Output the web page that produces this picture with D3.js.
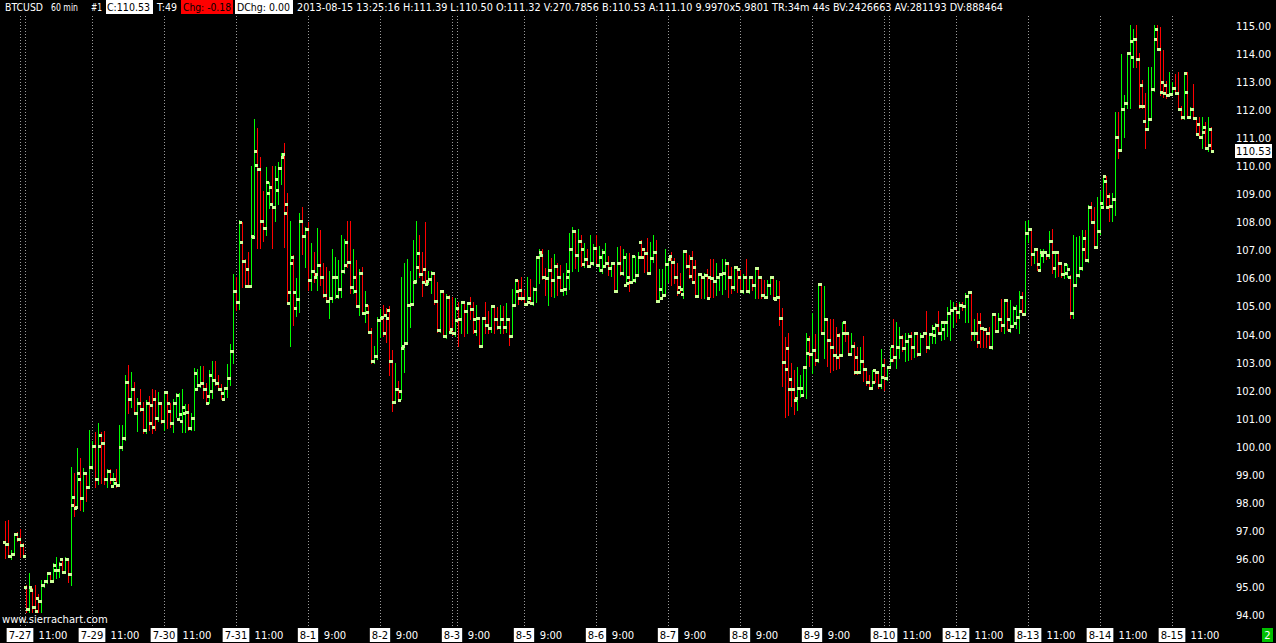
<!DOCTYPE html>
<html>
<head>
<meta charset="utf-8">
<script src="https://cdn.jsdelivr.net/npm/d3@7"></script>
<style>
  html, body { margin: 0; padding: 0; background: #000; }
  svg { display: block; }
  text { font-family: "DejaVu Sans", "Liberation Sans", sans-serif; }
</style>
</head>
<body>
<svg id="chart"></svg>
<script>
// BTCUSD 60 min bars (bar index 0 .. 402)
var opens = [96.6,96.52,96.1,96.18,96.88,96.71,96.5,95.0,94.22,94.9,
  94.3,94.6,94.51,95.07,95.23,95.49,95.23,95.6,95.62,96.0,
  95.55,96.0,95.46,98.2,97.86,98.84,98.16,99.05,98.56,99.26,
  100.04,98.84,100.4,100.14,98.84,99.15,98.6,98.7,98.65,100.0,
  100.3,102.3,101.69,102.05,101.2,101.55,101.34,100.6,101.55,101.5,
  101.69,101.02,101.55,100.9,101.96,101.27,100.84,101.55,101.0,100.93,
  101.2,101.22,100.66,101.02,102.05,102.2,102.26,102.05,101.8,102.0,
  102.38,102.26,102.05,101.69,102.08,102.44,103.41,105.55,105.15,107.29,
  106.63,106.33,105.73,107.47,110.04,109.9,108.04,107.8,109.03,108.64,
  108.54,109.15,109.93,110.44,108.64,105.53,106.78,104.93,105.26,108.04,
  107.51,107.76,105.94,106.27,106.16,106.48,106.06,105.41,105.2,105.3,
  106.04,105.37,105.64,106.27,107.29,106.58,105.68,105.55,105.03,106.18,
  104.76,104.82,104.08,103.04,103.24,104.52,104.64,104.7,104.88,103.04,
  101.6,102.05,102.0,103.59,103.71,105.04,105.1,105.9,106.91,106.16,
  106.33,105.91,105.99,106.2,105.2,104.16,105.56,103.93,105.35,104.2,
  104.04,104.93,104.54,105.15,104.84,105.12,104.9,104.13,104.58,103.59,
  104.58,104.34,104.22,105.02,104.55,104.26,104.55,104.26,104.54,103.95,
  105.05,105.56,105.6,105.29,105.08,105.3,105.13,105.64,106.75,106.84,
  106.04,106.0,106.3,105.94,106.44,106.04,105.59,105.64,106.28,107.04,
  107.7,106.84,107.34,106.5,106.68,106.44,106.56,107.08,106.48,106.3,
  106.45,106.54,106.36,106.54,105.56,106.54,106.18,105.78,106.04,105.89,
  105.94,106.12,107.3,107.05,106.92,106.18,106.72,106.93,105.2,105.3,
  105.41,106.5,106.8,106.6,106.04,105.7,105.45,106.98,106.44,106.72,
  106.4,105.37,106.16,106.04,106.12,106.04,106.0,105.92,106.04,106.16,
  106.2,106.54,106.04,105.68,106.4,106.04,105.56,106.04,105.56,106.04,
  105.77,106.36,106.04,105.41,105.35,105.77,106.04,105.27,105.35,104.58,
  103.03,103.51,102.4,102.05,101.75,102.08,101.84,102.83,103.83,103.31,
  103.45,103.09,105.8,104.07,104.54,103.8,103.54,103.27,104.0,103.27,
  104.43,104.04,103.31,103.6,103.2,102.68,103.07,102.76,102.32,102.08,
  102.72,102.68,102.2,102.9,102.44,102.83,103.6,103.19,103.54,103.9,
  103.51,103.78,103.95,103.54,104.04,103.31,103.95,104.04,103.57,104.02,
  104.0,104.34,104.07,104.2,104.45,104.76,104.88,104.93,104.79,105.05,
  105.0,105.37,105.53,104.04,104.06,104.45,104.25,104.19,104.04,103.54,
  104.72,104.14,104.54,104.34,105.23,104.16,104.3,104.4,104.63,105.33,
  104.72,107.63,107.75,106.87,107.04,106.3,106.85,106.93,106.84,107.33,
  106.36,106.93,106.54,106.15,106.2,106.05,104.76,105.77,106.11,106.36,
  107.43,106.66,108.54,108.02,107.11,107.7,108.54,109.47,108.95,108.58,
  108.82,111.03,110.58,112.04,112.24,114.03,113.91,114.54,113.82,112.9,
  111.61,111.33,111.68,112.75,114.9,114.18,113.0,112.9,112.54,112.58,
  112.8,112.6,112.04,111.75,112.64,111.75,112.03,111.71,111.5,111.05,
  111.4,110.64,111.32];

var highs = [97.35,97.39,96.3,96.91,96.95,97.06,96.56,95.07,95.5,94.95,
  95.07,94.75,95.25,95.25,95.55,95.55,95.84,96.08,95.9,96.02,
  96.08,96.02,99.29,99.05,99.94,99.58,99.23,99.1,100.6,100.2,
  100.53,100.83,100.53,100.57,99.2,99.2,99.05,99.2,100.78,100.78,
  102.55,102.91,102.68,102.29,101.73,102.05,101.6,101.67,101.81,102.05,
  102.02,101.96,101.6,102.0,101.98,101.55,101.69,101.93,101.9,102.05,
  101.52,101.52,101.2,102.79,102.76,102.86,102.86,102.26,102.74,103.07,
  103.07,102.56,102.24,102.14,102.95,103.66,106.16,106.04,108.07,108.02,
  106.68,106.95,110.0,111.67,111.35,110.32,109.12,109.98,109.45,110.0,
  110.0,110.15,110.46,110.84,109.04,108.05,106.84,106.0,108.32,108.54,
  107.85,108.02,107.25,106.95,107.79,107.73,106.54,106.42,106.28,107.04,
  106.78,106.66,107.55,107.4,108.06,108.06,107.04,106.66,106.33,106.4,
  105.56,105.05,104.22,103.6,104.61,104.9,105.05,104.94,105.02,103.45,
  102.98,102.33,106.04,106.56,106.68,106.28,107.37,108.06,107.55,106.95,
  108.02,106.28,106.28,106.22,105.88,105.6,105.6,105.45,105.41,105.35,
  105.29,105.17,105.17,105.21,105.17,105.33,105.17,105.05,104.6,104.61,
  105.17,104.85,105.05,105.05,104.97,105.05,105.0,105.12,104.6,105.64,
  105.97,105.94,106.04,105.59,106.04,105.97,105.7,106.8,107.04,107.04,
  106.36,107.0,106.72,106.87,106.56,106.48,106.2,106.56,107.63,107.82,
  107.72,107.75,107.55,107.28,107.04,107.55,107.23,107.55,107.16,107.04,
  107.28,106.8,106.6,106.6,107.11,107.16,107.04,106.92,106.89,106.84,
  106.8,106.95,107.37,107.08,107.43,107.31,107.55,107.37,106.33,106.33,
  107.04,106.72,106.95,106.72,106.54,106.2,107.0,107.0,106.84,106.98,
  106.66,106.18,106.2,106.2,106.33,106.68,106.68,106.56,106.18,106.68,
  106.68,106.56,106.42,106.42,106.42,106.3,106.16,106.68,106.06,106.06,
  106.4,106.4,106.05,105.94,105.94,106.06,106.06,105.94,105.92,104.94,
  103.9,104.04,102.98,102.74,102.83,102.56,102.85,104.04,103.95,104.78,
  104.02,105.85,105.82,105.73,104.56,104.54,104.54,104.28,104.04,104.46,
  104.49,104.06,104.04,103.75,103.54,103.54,103.95,102.78,102.56,102.74,
  102.74,102.7,103.47,103.12,102.88,103.54,104.54,104.43,104.26,104.0,
  104.07,104.04,104.1,104.1,104.06,104.06,104.06,104.85,104.04,104.34,
  104.4,104.85,104.49,104.5,104.97,105.23,105.17,105.14,105.17,105.17,
  105.47,105.56,105.56,104.55,104.76,104.78,104.28,104.2,104.26,104.76,
  104.75,104.78,105.26,105.26,105.25,105.23,105.02,105.05,105.56,105.53,
  108.06,108.1,107.8,107.07,107.06,107.04,107.04,106.95,107.7,107.75,
  106.99,106.95,106.56,106.51,106.5,106.12,107.55,107.49,107.51,107.73,
  107.73,108.62,108.74,108.54,108.89,109.1,109.69,109.65,109.04,109.04,
  111.92,111.92,113.99,112.54,114.05,115.04,114.89,115.04,114.03,113.07,
  112.6,113.55,113.55,115.04,115.04,114.98,114.14,113.04,113.35,113.0,
  113.28,113.35,112.13,113.35,113.35,112.1,112.92,111.75,111.77,111.77,
  111.57,111.77,111.39];

var lows = [96.04,96.08,96.0,96.14,96.65,96.08,96.08,94.12,94.12,94.12,
  94.12,94.12,94.12,95.0,95.15,95.2,95.2,95.31,95.37,95.54,
  95.49,95.19,95.07,97.53,97.8,97.74,97.72,98.08,98.56,99.2,
  98.58,98.67,98.7,98.67,98.58,98.72,98.58,98.55,98.6,99.9,
  100.24,101.2,101.43,101.18,100.57,101.29,100.48,100.48,100.6,100.48,
  100.6,100.9,100.85,100.6,100.65,100.72,100.53,101.07,100.95,100.53,
  100.53,100.6,100.6,100.6,102.02,102.14,101.73,101.55,101.55,101.73,
  102.2,102.02,101.69,101.67,101.78,102.2,102.98,104.87,104.9,105.7,
  105.7,105.7,105.7,107.43,107.07,107.07,107.35,107.55,108.5,107.07,
  108.06,108.65,109.37,107.13,105.12,103.59,104.34,104.66,104.8,106.87,
  106.42,105.59,105.59,105.88,105.59,105.77,105.35,105.17,104.58,105.17,
  105.29,105.29,105.35,106.2,106.42,105.47,105.47,105.0,104.7,104.74,
  104.46,104.05,102.99,103.0,103.12,103.9,103.93,103.75,102.56,101.29,
  101.55,101.65,101.69,102.68,103.68,104.28,105.05,105.85,106.06,105.37,
  105.78,105.8,105.47,105.09,104.1,104.1,103.93,103.87,104.04,104.0,
  103.93,103.59,104.04,103.95,104.04,104.54,104.04,103.98,103.55,103.55,
  104.04,104.07,104.1,104.07,104.2,104.04,104.07,104.1,103.62,103.9,
  105.0,105.09,105.23,105.05,105.05,105.1,105.05,105.17,105.85,105.97,
  105.41,105.05,105.37,105.33,105.41,105.55,105.41,105.45,105.64,106.28,
  106.36,106.28,106.44,106.4,106.42,106.4,106.48,106.44,106.28,106.2,
  106.45,106.12,106.09,105.53,105.53,106.12,106.12,105.77,105.56,105.85,
  105.88,106.1,106.72,106.24,106.16,106.15,106.6,105.17,105.15,105.28,
  105.4,105.88,105.77,105.83,105.41,105.5,105.29,106.36,106.0,105.83,
  105.35,105.35,105.29,105.29,105.26,105.35,105.35,105.41,105.59,105.45,
  105.64,105.35,105.47,105.6,105.5,105.5,105.47,105.53,105.47,105.59,
  105.29,105.29,105.29,105.29,105.3,105.45,105.27,105.25,104.34,102.16,
  101.05,101.13,101.45,101.17,101.31,101.78,101.8,101.75,102.86,102.62,
  102.92,103.03,104.02,103.15,102.86,102.68,102.75,102.76,102.79,103.25,
  103.78,103.27,103.27,102.59,102.59,102.65,102.35,102.2,102.05,102.05,
  102.29,102.08,102.08,102.02,102.38,102.8,103.05,102.79,103.15,103.4,
  103.07,103.1,103.12,103.2,103.24,103.3,103.9,103.39,103.5,103.68,
  103.71,104.04,103.8,103.85,103.95,103.8,104.28,104.46,104.6,104.87,
  104.46,104.46,103.8,103.82,103.57,103.57,103.57,103.57,103.51,103.5,
  104.1,104.1,104.14,104.07,104.16,104.1,104.28,104.22,104.07,104.7,
  104.7,107.3,106.48,106.54,106.3,106.28,106.6,106.7,106.72,106.2,
  106.06,106.09,106.06,106.0,106.05,104.58,104.58,105.75,106.05,106.3,
  106.62,106.6,108.0,107.08,107.08,107.6,108.5,108.52,108.06,108.06,
  108.26,110.28,110.55,111.05,112.07,112.07,113.55,113.55,112.07,112.07,
  110.66,111.3,111.65,112.7,114.14,112.54,112.48,112.44,112.5,112.55,
  112.58,112.0,111.7,111.7,111.72,111.75,111.68,111.1,111.02,110.64,
  110.6,110.54,110.50];

var closes = [96.52,96.1,96.18,96.88,96.71,96.5,96.12,94.22,94.99,94.28,
  94.15,94.5,95.07,95.23,95.49,95.23,95.78,95.62,95.82,95.55,
  96.0,95.46,97.93,97.81,99.08,98.16,99.05,98.56,99.26,100.04,
  98.84,100.04,100.14,98.84,99.15,98.84,98.84,98.65,100.0,100.3,
  102.3,101.69,102.05,101.2,101.55,101.34,100.6,101.55,100.84,100.69,
  101.02,101.55,100.9,101.96,101.55,100.84,101.55,101.84,101.17,101.41,
  101.22,100.66,101.02,102.62,102.2,102.26,102.05,101.57,102.56,102.38,
  102.26,102.05,101.93,102.08,102.44,103.41,105.55,105.15,108.02,106.63,
  105.73,105.73,107.5,110.54,109.9,108.04,107.8,109.43,109.25,108.54,
  109.53,109.93,110.34,108.32,105.14,106.55,105.53,105.26,108.04,107.51,
  107.76,105.94,106.27,106.06,106.48,106.06,105.41,105.2,105.3,106.04,
  106.06,105.64,106.27,106.47,106.58,105.68,106.04,105.03,106.18,104.76,
  105.05,104.08,103.04,103.24,104.52,104.59,104.04,104.59,103.04,101.6,
  102.05,101.67,103.51,103.71,105.04,105.1,105.87,106.42,106.16,105.87,
  105.8,105.99,106.2,105.2,104.16,105.56,103.95,105.35,104.1,104.04,
  104.52,104.54,105.15,104.84,105.12,104.9,104.54,104.6,103.59,104.58,
  104.34,104.22,105.02,104.55,104.26,104.55,104.26,104.54,103.95,105.05,
  105.94,105.29,105.29,105.08,105.17,105.13,105.64,106.75,106.93,106.04,
  106.0,106.3,105.94,106.44,106.04,105.59,105.64,106.04,107.04,107.7,
  106.84,107.34,107.04,106.68,106.44,106.56,107.08,106.48,106.75,106.95,
  106.54,106.36,106.54,105.56,106.54,106.18,106.75,105.83,105.89,106.8,
  106.12,106.78,106.78,106.92,106.18,106.72,106.93,105.2,105.64,105.41,
  106.5,106.68,106.6,106.04,105.53,105.61,106.98,106.44,106.09,105.86,
  105.37,106.16,106.04,106.12,105.29,106.0,105.92,106.04,106.16,106.2,
  106.54,106.04,105.68,106.4,106.33,105.56,106.04,105.56,106.04,105.77,
  106.36,106.04,105.41,105.35,105.77,106.04,105.29,105.35,104.58,103.03,
  102.78,102.05,102.05,101.67,102.08,102.1,102.83,103.33,103.31,103.45,
  103.09,105.8,104.07,104.54,103.8,103.54,103.27,103.19,103.27,104.07,
  104.07,103.31,103.6,102.68,102.68,103.07,102.76,102.32,102.08,102.32,
  102.68,102.2,102.47,102.44,102.83,103.09,103.19,103.54,103.9,103.51,
  103.78,103.95,103.54,104.04,103.31,103.95,104.04,103.57,104.02,104.25,
  104.34,104.07,104.45,104.45,104.76,104.88,104.93,104.79,105.05,105.0,
  105.37,105.53,104.04,104.06,103.75,104.25,104.19,104.04,103.54,104.72,
  104.14,104.54,104.34,105.23,104.54,104.3,104.93,104.63,104.85,104.72,
  107.63,107.75,106.87,107.04,106.51,106.95,106.93,106.84,107.33,106.94,
  106.93,106.54,106.15,106.5,106.34,104.76,105.77,106.11,106.36,107.04,
  106.66,108.54,108.02,107.11,107.7,108.7,109.65,108.54,108.58,108.82,
  111.03,110.58,112.04,112.24,114.03,114.47,114.54,113.82,112.16,112.16,
  111.33,111.68,112.75,114.54,114.18,112.64,112.6,112.54,112.58,112.8,
  112.6,112.04,111.75,113.31,111.75,112.03,111.71,111.14,111.05,111.21,
  110.64,110.76,110.53];

// price scale tick labels on the right
var priceTicks = [94, 95, 96, 97, 98, 99, 100, 101, 102, 103, 104, 105,
  106, 107, 108, 109, 110, 111, 112, 113, 114, 115];

// day starts (bar index) and their labels, with the hour label that follows
var dayIndex = [5, 29, 53, 77, 101, 125, 149, 173, 197, 221, 245, 269, 293, 317, 341, 365, 389];
var dayLabels = ["7-27", "7-29", "7-30", "7-31", "8-1", "8-2", "8-3", "8-5", "8-6", "8-7",
  "8-8", "8-9", "8-10", "8-12", "8-13", "8-14", "8-15"];
var hourLabels = ["11:00", "11:00", "11:00", "11:00", "9:00", "9:00", "9:00", "9:00", "9:00", "9:00",
  "9:00", "9:00", "11:00", "11:00", "11:00", "11:00", "11:00"];
var hourOffset = [11, 11, 11, 11, 9, 9, 9, 9, 9, 9, 9, 9, 11, 11, 11, 11, 11];
// week breaks get a second dotted line
var weekBreaks = [5, 149, 293];

var W = 1276, H = 643;
var bars = d3.range(closes.length);
var lastClose = closes[closes.length - 1];

var svg = d3.select("#chart")
    .attr("width", W)
    .attr("height", H)
    .style("background", "#000");

var x = d3.scaleLinear().domain([0, bars.length - 1]).range([5, 1211]);
var y = d3.scaleLinear().domain([94, 115]).range([615, 26]);

function px(i) { return Math.round(x(i)); }
function py(v) { return Math.round(y(v)); }

// dotted session lines
var grid = svg.append("g")
    .attr("stroke", "#9a9a9a")
    .attr("stroke-width", 1)
    .attr("stroke-dasharray", "1,2");

grid.selectAll("line.day")
    .data(dayIndex)
  .enter().append("line")
    .attr("class", "day")
    .attr("x1", function(d) { return px(d) + 0.5; })
    .attr("x2", function(d) { return px(d) + 0.5; })
    .attr("y1", 16)
    .attr("y2", 626);

grid.selectAll("line.week")
    .data(weekBreaks)
  .enter().append("line")
    .attr("class", "week")
    .attr("x1", function(d) { return px(d) + 5.5; })
    .attr("x2", function(d) { return px(d) + 5.5; })
    .attr("y1", 16)
    .attr("y2", 626);

// high-low lines
svg.append("g")
    .attr("shape-rendering", "crispEdges")
  .selectAll("line")
    .data(bars)
  .enter().append("line")
    .attr("x1", function(i) { return px(i) + 0.5; })
    .attr("x2", function(i) { return px(i) + 0.5; })
    .attr("y1", function(i) { return py(highs[i]); })
    .attr("y2", function(i) { return py(lows[i]) + 1; })
    .attr("stroke", function(i) { return closes[i] >= opens[i] ? "#00ff00" : "#ff0000"; })
    .attr("stroke-width", 1);

// open and close ticks
var ticks = svg.append("g")
    .attr("fill", "#ccff99")
    .attr("shape-rendering", "crispEdges");

ticks.selectAll("rect.open")
    .data(bars)
  .enter().append("rect")
    .attr("class", "open")
    .attr("x", function(i) { return px(i) - 2; })
    .attr("y", function(i) { return py(opens[i]) - 1; })
    .attr("width", 3)
    .attr("height", 3);

ticks.selectAll("rect.close")
    .data(bars)
  .enter().append("rect")
    .attr("class", "close")
    .attr("x", function(i) { return px(i); })
    .attr("y", function(i) { return py(closes[i]) - 1; })
    .attr("width", 3)
    .attr("height", 3);

// price axis
var axis = svg.append("g").attr("font-size", 10);

axis.selectAll("text.price")
    .data(priceTicks)
  .enter().append("text")
    .attr("class", "price")
    .attr("x", 1236)
    .attr("y", function(d) { return y(d) + 4; })
    .attr("fill", "#fff")
    .text(function(d) { return d3.format(".2f")(d); });

var lastRect = axis.append("rect")
    .attr("x", 1235)
    .attr("y", py(lastClose) - 7)
    .attr("height", 14)
    .attr("fill", "#fff");

var lastText = axis.append("text")
    .attr("x", 1236)
    .attr("y", py(lastClose) + 4)
    .attr("fill", "#000")
    .text(d3.format(".2f")(lastClose));

lastRect.attr("width", lastText.node().getComputedTextLength() + 2);

// time axis
var tax = svg.append("g").attr("font-size", 10);

var dayG = tax.selectAll("g.day")
    .data(dayIndex)
  .enter().append("g")
    .attr("class", "day");

var dayRects = dayG.append("rect")
    .attr("y", 628)
    .attr("height", 14)
    .attr("fill", "#fff");

dayG.append("text")
    .attr("x", function(d) { return px(d); })
    .attr("y", 639)
    .attr("text-anchor", "middle")
    .attr("fill", "#000")
    .text(function(d, i) { return dayLabels[i]; })
    .each(function(d, i) {
      var w = this.getComputedTextLength() + 4;
      d3.select(dayRects.nodes()[i])
          .attr("x", px(d) - w / 2)
          .attr("width", w);
    });

tax.selectAll("text.hour")
    .data(dayIndex)
  .enter().append("text")
    .attr("class", "hour")
    .attr("x", function(d, i) { return px(d + hourOffset[i]); })
    .attr("y", 639)
    .attr("text-anchor", "middle")
    .attr("fill", "#fff")
    .text(function(d, i) { return hourLabels[i]; });

// header line
var head = svg.append("g").attr("font-size", 11);

function headText(t, x0, w, color) {
  head.append("text")
      .attr("x", x0)
      .attr("y", 11)
      .attr("fill", color || "#fff")
      .attr("textLength", w)
      .attr("lengthAdjust", "spacingAndGlyphs")
      .text(t);
}
function headBox(x0, w, color) {
  head.append("rect")
      .attr("x", x0).attr("y", 0)
      .attr("width", w).attr("height", 14)
      .attr("fill", color);
}

headText("BTCUSD", 5, 38);
headText("60 min", 51, 27);
headText("#1", 91, 11);
headBox(106, 47, "#fff");
headText("C:110.53", 107, 43, "#000");
headText("T:49", 157, 20);
headBox(181, 52, "#ff0000");
headText("Chg: -0.18", 183, 48, "#000");
headBox(235, 58, "#fff");
headText("DChg: 0.00", 237, 53, "#000");
headText("2013-08-15 13:25:16 H:111.39 L:110.50 O:111.32 V:270.7856 B:110.53 A:111.10 9.9970x5.9801 TR:34m 44s BV:2426663 AV:281193 DV:888464", 297, 706);

// footer bits
svg.append("text")
    .attr("x", 2)
    .attr("y", 623)
    .attr("font-size", 10)
    .attr("fill", "#fff")
    .text("www.sierrachart.com");

svg.append("rect")
    .attr("x", 1262).attr("y", 628)
    .attr("width", 11).attr("height", 14)
    .attr("fill", "#00c000");

svg.append("text")
    .attr("x", 1267.5)
    .attr("y", 639)
    .attr("font-size", 10)
    .attr("text-anchor", "middle")
    .attr("fill", "#fff")
    .text("2");
</script>
</body>
</html>
